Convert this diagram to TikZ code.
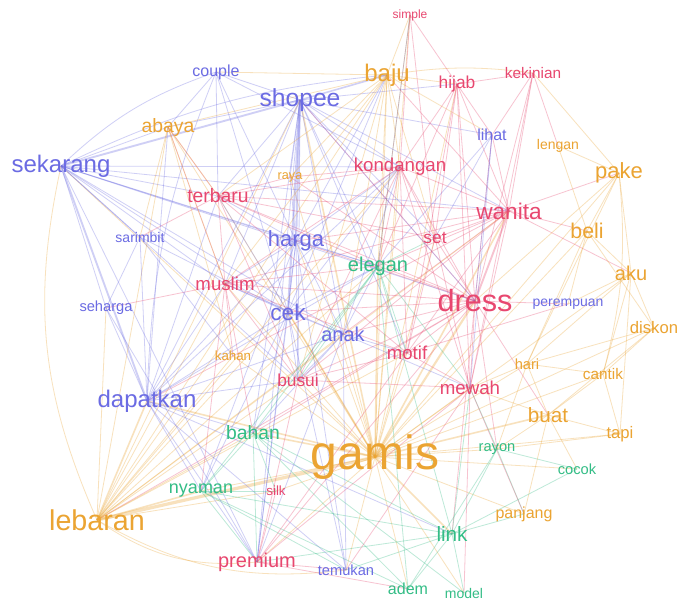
\documentclass[tikz,border=0pt]{standalone}
\usepackage{fontspec}
\setmainfont{Liberation Sans}
\usetikzlibrary{backgrounds}
\definecolor{wblue}{HTML}{6B6BE3}
\definecolor{worange}{HTML}{EBA432}
\definecolor{wred}{HTML}{E8476F}
\definecolor{wgreen}{HTML}{33BD86}
\newcommand{\wsz}[1]{\fontsize{#1}{#1}\selectfont}

\begin{document}
\begin{tikzpicture}[x=0.75pt, y=-0.75pt,
    bw/.style={text=wblue, font=\wsz{#1}, inner sep=1pt},
    ow/.style={text=worange, font=\wsz{#1}, inner sep=1pt},
    rw/.style={text=wred, font=\wsz{#1}, inner sep=1pt},
    gw/.style={text=wgreen, font=\wsz{#1}, inner sep=1pt},
    cen/.style={to path={(\tikztostart.center) -- (\tikztotarget.center)}},
    eb/.style={every edge/.style={draw, cen, wblue, draw opacity=.32, line width=.6pt}},
    eo/.style={every edge/.style={draw, cen, worange, draw opacity=.32, line width=.6pt}},
    er/.style={every edge/.style={draw, cen, wred, draw opacity=.32, line width=.6pt}},
    eg/.style={every edge/.style={draw, cen, wgreen, draw opacity=.32, line width=.6pt}},
    bk/.style={draw opacity=.32, line width=.6pt},
    th/.style={line width=#1pt}]
        \useasboundingbox (0,0) rectangle (680,600);

        % words
        \node[rw=9] (simple) at (410,15) {simple};
        \node[bw=12] (couple) at (216,72) {couple};
        \node[ow=18] (baju) at (387,75) {baju};
        \node[rw=13] (hijab) at (457,84) {hijab};
        \node[rw=11.5] (kekinian) at (533,73) {kekinian};
        \node[bw=18.5] (shopee) at (300,100) {shopee};
        \node[ow=14.5] (abaya) at (168,127) {abaya};
        \node[bw=12] (lihat) at (492,135) {lihat};
        \node[ow=10.5] (lengan) at (558,146) {lengan};
        \node[bw=18] (sekarang) at (61,166) {sekarang};
        \node[rw=14] (kondangan) at (400,167) {kondangan};
        \node[ow=16.5] (pake) at (619,173) {pake};
        \node[ow=9.5] (raya) at (290,177) {raya};
        \node[rw=14.5] (terbaru) at (218,196) {terbaru};
        \node[rw=17] (wanita) at (509,211) {wanita};
        \node[ow=16] (beli) at (587,231) {beli};
        \node[bw=10.5] (sarimbit) at (140,237) {sarimbit};
        \node[rw=13] (set) at (435,238) {set};
        \node[bw=16.5] (harga) at (296,241) {harga};
        \node[gw=15] (elegan) at (378,266) {elegan};
        \node[ow=15] (aku) at (631,273) {aku};
        \node[rw=14] (muslim) at (225,284) {muslim};
        \node[rw=23] (dress) at (475,301) {dress};
        \node[bw=10.5] (perempuan) at (568,304) {perempuan};
        \node[bw=11] (seharga) at (106,308) {seharga};
        \node[bw=17] (cek) at (288,312) {cek};
        \node[ow=12.5] (diskon) at (654,328) {diskon};
        \node[bw=15] (anak) at (343,334) {anak};
        \node[rw=14] (motif) at (407,353) {motif};
        \node[ow=10] (kahan) at (233,356) {kahan};
        \node[ow=11] (hari) at (527,364) {hari};
        \node[ow=11.5] (cantik) at (603,374) {cantik};
        \node[rw=13] (busui) at (298,380) {busui};
        \node[rw=14] (mewah) at (470,388) {mewah};
        \node[bw=18] (dapatkan) at (147,401) {dapatkan};
        \node[ow=15.5] (buat) at (548,415) {buat};
        \node[gw=14.5] (bahan) at (253,433) {bahan};
        \node[ow=12.5] (tapi) at (620,434) {tapi};
        \node[gw=11] (rayon) at (497,449) {rayon};
        \node[ow=36] (gamis) at (375,457) {gamis};
        \node[gw=11] (cocok) at (577,469) {cocok};
        \node[gw=13.5] (nyaman) at (201,491) {nyaman};
        \node[rw=10] (silk) at (276,491) {silk};
        \node[ow=21.5] (lebaran) at (97,520) {lebaran};
        \node[ow=12] (panjang) at (524,514) {panjang};
        \node[gw=15.5] (link) at (452,534) {link};
        \node[rw=15] (premium) at (257,562) {premium};
        \node[bw=11] (temukan) at (346,570) {temukan};
        \node[gw=12] (adem) at (408,589) {adem};
        \node[gw=10.5] (model) at (464,593) {model};

        \begin{pgfonlayer}{background}
        \fill[white] (0,0) rectangle (680,600);
        % hubs
        \path[eo] (gamis) edge[th=2.4] (lebaran) edge[th=1.6] (dress) edge[th=1.2] (dapatkan) edge[th=1.2] (wanita) edge (baju) edge[th=1.2] (bahan) edge (nyaman) edge (premium) edge[th=1.2] (link) edge[th=1.2] (buat) edge (mewah) edge (motif) edge[th=1.2] (elegan) edge (anak) edge[th=1.2] (cek) edge (harga) edge[th=1.2] (shopee) edge (kondangan) edge (busui) edge (muslim) edge (hari) edge (cantik) edge (rayon) edge (panjang) edge (adem) edge (temukan) edge (silk) edge (set) edge (terbaru) edge (abaya) edge (pake) edge (beli) edge (aku) edge (tapi) edge (cocok) edge (model) edge (kahan) edge (sekarang) edge (hijab) edge (raya) edge (diskon) edge (simple);
        \path[er] (dress) edge[th=1.4] (wanita) edge (set) edge (kondangan) edge (elegan) edge (motif) edge (mewah) edge (perempuan) edge (anak) edge (cek) edge (harga) edge (hijab) edge (kekinian) edge (muslim) edge (terbaru) edge (busui) edge (premium) edge (bahan) edge (link) edge (rayon) edge (buat) edge (shopee) edge (lihat) edge (raya) edge (lebaran);
        \path[er] (wanita) edge (set) edge (kondangan) edge (hijab) edge (baju) edge (beli) edge (aku) edge (pake) edge (motif) edge (mewah) edge (elegan) edge (muslim) edge (terbaru) edge (kekinian) edge (lihat) edge (harga) edge (anak) edge (busui) edge (dapatkan);
        \path[eb] (sekarang) edge[th=1.4] (shopee) edge[th=1.4] (dapatkan) edge (abaya) edge (terbaru) edge (harga) edge (seharga) edge (sarimbit) edge (muslim) edge (cek) edge (anak) edge (premium) edge (kondangan) edge (wanita) edge (dress) edge (elegan) edge (busui);
        \path[eb] (shopee) edge[th=1.6] (harga) edge[th=1.6] (cek) edge[th=1.2] (baju) edge (couple) edge (abaya) edge (dapatkan) edge (dress) edge (anak) edge (wanita) edge (elegan) edge (premium) edge (busui) edge (kondangan) edge (terbaru) edge (muslim) edge (hijab) edge (lihat) edge (set) edge (motif) edge (raya) edge (bahan);
        \path[eo] (lebaran) edge[th=1.2] (dapatkan) edge (bahan) edge[th=1.2] (nyaman) edge (muslim) edge (cek) edge (anak) edge (baju) edge (shopee) edge (seharga) edge (elegan) edge (wanita) edge (kahan) edge (busui) edge (silk) edge (motif) edge (harga) edge (kondangan) edge (abaya);
        \path[eb] (dapatkan) edge (seharga) edge (sarimbit) edge (harga) edge (cek) edge (anak) edge (muslim) edge (busui) edge (premium) edge (bahan) edge (nyaman) edge (terbaru) edge (elegan) edge (kondangan) edge (temukan) edge (link) edge (abaya);
        \path[eb] (harga) edge (cek) edge (anak) edge (elegan) edge (muslim) edge (terbaru) edge (baju) edge (kondangan) edge (busui) edge (premium) edge (nyaman) edge (temukan) edge (raya);
        \path[eb] (cek) edge (anak) edge (elegan) edge (muslim) edge (busui) edge (bahan) edge (nyaman) edge (premium) edge (temukan) edge (terbaru) edge (kondangan) edge (baju);
        \path[eb] (anak) edge (elegan) edge (motif) edge (busui) edge (muslim) edge (bahan) edge (premium) edge (temukan) edge (mewah) edge (kondangan);
        \path[eo] (baju) edge (couple) edge (abaya) edge (hijab) edge (simple) edge (kondangan) edge (raya) edge (terbaru) edge (elegan) edge (muslim) edge (lihat) edge (set) edge (anak) edge (busui);
        \path[er] (kondangan) edge (hijab) edge (set) edge (elegan) edge (terbaru) edge (motif) edge (mewah) edge (muslim) edge (busui) edge (raya) edge (simple);
        \path[er] (terbaru) edge (abaya) edge (muslim) edge (sarimbit) edge (raya) edge (set) edge (elegan) edge (busui) edge (motif);
        \path[er] (muslim) edge (abaya) edge (seharga) edge (kahan) edge (busui) edge (elegan) edge (motif) edge (nyaman) edge (bahan);
        \path[eg] (elegan) edge (set) edge (motif) edge (bahan) edge (nyaman) edge (link) edge (mewah) edge (busui) edge (adem) edge (simple);
        % outer arcs
        \draw[wblue, bk] (sekarang.center) to[bend left=12] (couple.center);
        \draw[wblue, bk] (sekarang.center) to[bend left=10] (baju.center);
        \draw[wblue, bk] (dapatkan.center) to[bend left=10] (couple.center);
        \draw[worange, bk] (lebaran.center) to[bend left=18] (sekarang.center);
        \draw[worange, bk] (lebaran.center) to[bend right=20] (premium.center);
        \draw[worange, bk] (lebaran.center) to[bend right=18] (temukan.center);
        \draw[worange, bk] (baju.center) to[bend left=8] (kekinian.center);
        \draw[worange, bk] (pake.center) to[bend left=10] (cantik.center);
        % right side
        \path[eo] (pake) edge (beli) edge (aku) edge (lengan) edge (kekinian) edge (hari) edge (dress);
        \path[eo] (beli) edge (aku) edge (diskon) edge (lengan) edge (perempuan) edge (hari);
        \path[eo] (aku) edge (diskon) edge (cantik) edge (tapi) edge (perempuan) edge (hari);
        \path[eo] (diskon) edge (cantik) edge (hari) edge (buat);
        \path[eo] (buat) edge (tapi) edge (hari) edge (cantik) edge (cocok) edge (rayon) edge (mewah) edge (panjang);
        \path[eo] (cantik) edge (hari) edge (tapi);
        \path[eo] (hari) edge (mewah) edge (rayon);
        \path[eo] (tapi) edge (rayon);
        \path[er] (hijab) edge (simple) edge (kekinian) edge (lihat) edge (set) edge (motif) edge (mewah) edge (elegan);
        \path[er] (kekinian) edge (lihat) edge (lengan) edge (mewah);
        \path[eb] (lihat) edge (set) edge (elegan) edge (dress) edge (mewah);
        \path[er] (simple) edge (set) edge (elegan);
        % bottom
        \path[eg] (link) edge (adem) edge (model) edge (rayon) edge (nyaman) edge (bahan) edge (premium) edge (temukan) edge (cocok) edge (panjang) edge (mewah);
        \path[eg] (rayon) edge (cocok) edge (panjang) edge (mewah) edge (adem);
        \path[eg] (nyaman) edge (bahan) edge (premium) edge (silk) edge (temukan) edge (adem);
        \path[eg] (bahan) edge (premium) edge (silk) edge (adem) edge (model);
        \path[er] (premium) edge (temukan) edge (silk) edge (motif) edge (busui) edge (mewah) edge (adem);
        \path[er] (mewah) edge (motif) edge (busui) edge (set) edge (panjang) edge (model) edge (temukan);
        \path[er] (motif) edge (set) edge (busui) edge (perempuan);
        % left side
        \path[eb] (couple) edge (abaya) edge (harga) edge (terbaru) edge (cek) edge (kondangan);
        \path[eo] (abaya) edge (sarimbit) edge (terbaru) edge (muslim) edge (kahan);
        \path[eb] (seharga) edge (premium) edge (sarimbit);
        \path[eb] (sarimbit) edge (cek) edge (kahan);
        \end{pgfonlayer}
    \end{tikzpicture}
\end{document}
